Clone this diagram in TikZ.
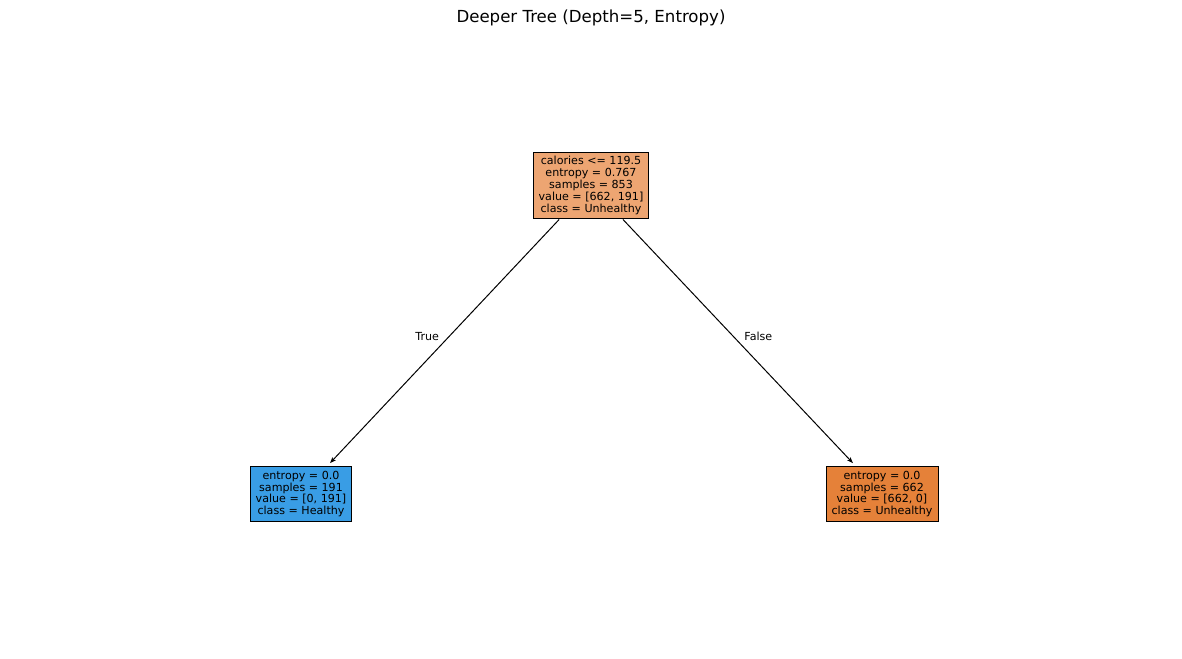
\documentclass[tikz,border=0pt]{standalone}
\usepackage{fontspec}
\setmainfont{DejaVu Sans}
\usetikzlibrary{positioning, arrows.meta}
\definecolor{rootfill}{RGB}{237,165,114}
\definecolor{healthyfill}{RGB}{57,157,229}
\definecolor{unhealthyfill}{RGB}{229,129,57}
\tikzset{
	treenode/.append style={
		draw,
		line width=1pt,
		align = center,
		inner xsep=5.6pt,
		inner ysep=4.5pt,
		font={\fontsize{11.1}{11.8}\selectfont},
	},
	labe/.append style={
		font={\fontsize{11.1}{11.8}\selectfont},
		inner sep=0pt,
	},
	branch/.append style={
		line width=1pt,
		-{Stealth[length=6pt, width=4.5pt, inset=1.5pt]},
		shorten >=4pt,
	},
}

\begin{document}
\begin{tikzpicture}[x=1pt, y=1pt]
\useasboundingbox[fill=white] (0,0) rectangle (1182,-658);

\node(title) at (591,-18) {\fontsize{16.6}{18}\selectfont Deeper Tree (Depth=5, Entropy)};

\node(root)[treenode, fill=rootfill] at (591,-185.5)
	{calories <= 119.5\\entropy = 0.767\\samples = 853\\value = [662, 191]\\class = Unhealthy};

\node(leaf1)[treenode, fill=healthyfill, on grid, below left = 308.5pt and 290pt of root]
	{entropy = 0.0\\samples = 191\\value = [0, 191]\\class = Healthy};
\node(leaf2)[treenode, fill=unhealthyfill, on grid, below right = 308.5pt and 291pt of root]
	{entropy = 0.0\\samples = 662\\value = [662, 0]\\class = Unhealthy};

\draw[branch] (root) -- node[labe, pos=0.5, xshift=-16pt, yshift=6.5pt](ltrue){True} (leaf1);
\draw[branch] (root) -- node[labe, pos=0.5, xshift=19pt, yshift=6.5pt](lfalse){False} (leaf2);

\end{tikzpicture}
\end{document}
